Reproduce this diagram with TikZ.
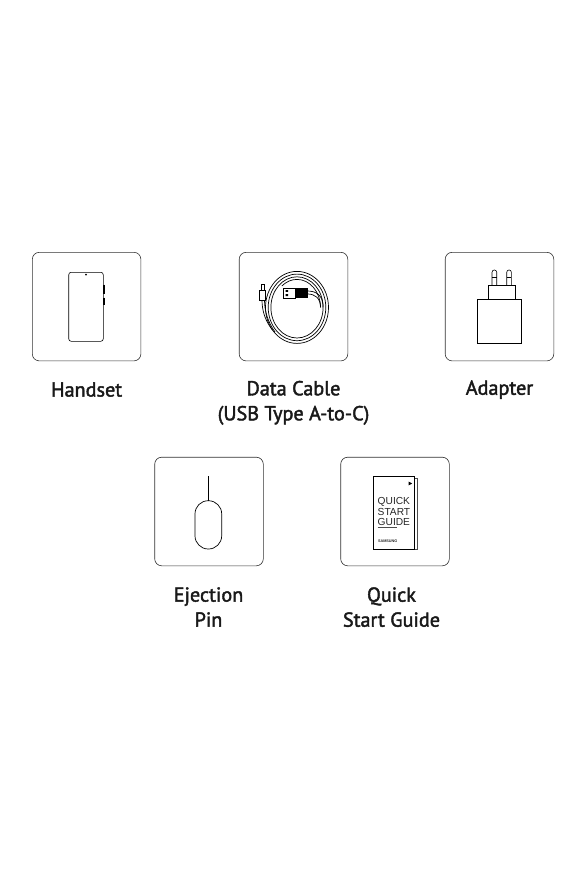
\documentclass[tikz,border=0pt]{standalone}
\usepackage{fontspec}
\setmainfont[FakeBold=2]{PT Sans}
\newfontfamily\guidefont{Liberation Sans}
\usetikzlibrary{positioning}
\tikzset{
    itembox/.style={draw=black!80,line width=0.6pt,rounded corners=7pt,minimum size=108.6pt,inner sep=0pt},
    itemlabel/.style={font=\fontsize{20.2}{25}\selectfont,align=center,text=black!90,inner sep=0pt,text depth=0pt},
    icon/.style={draw=black,line width=0.6pt},
    cableline/.style={draw=black,line width=0.7pt},
    guidetext/.style={font=\guidefont\fontsize{10.2}{10}\selectfont,anchor=west,inner sep=0pt,text=black!85}
}
\begin{document}
\begin{tikzpicture}[x=1pt,y=-1pt]
    \useasboundingbox (0,0) rectangle (586,879);
    % boxes
    \node[itembox] (handset) at (86.6,306.6) {};
    \node[itembox] (cable) at (293.5,306.6) {};
    \node[itembox] (adapter) at (499.5,306.6) {};
    \node[itembox] (pin) at (209,511.5) {};
    \node[itembox] (guide) at (395,511.5) {};
    % labels
    \node[itemlabel,below=21pt of handset] (handsetlabel) {Handset};
    \node[itemlabel,below=19.5pt of cable] (cablelabel) {Data Cable\\(USB Type A-to-C)};
    \node[itemlabel,below=19pt of adapter] (adapterlabel) {Adapter};
    \node[itemlabel,below=21pt of pin,xshift=-0.5pt] (pinlabel) {Ejection\\Pin};
    \node[itemlabel,below=21pt of guide,xshift=-3.5pt] (guidelabel) {Quick\\Start Guide};
    % phone
    \draw[icon,rounded corners=2.5pt] (68.7,272.3) rectangle (103.3,341.3);
    \fill (86,274.6) circle (1pt);
    \draw[line width=1.3pt] (104,284.5) -- (104,294) (104,297.5) -- (104,305);
    % cable
    \foreach \rad in {0,2.7,5.4} {
        \draw[cableline] (297,307.4) ellipse ({31.5-\rad} and {36-\rad});
    }
    \draw[cableline] (320.5,307.4) arc[start angle=0,end angle=130,x radius=23.5pt,y radius=28pt];
    \draw[cableline] (307.5,291) .. controls (316,291) and (323.1,295) .. (323.1,307.4);
    \draw[cableline] (307.5,294) .. controls (315,294) and (320.5,298) .. (320.5,307.4);
    \draw[cableline] (262,300) .. controls (262,312) and (266,322) .. (272.5,330);
    \draw[cableline] (264.5,300) .. controls (264.5,312) and (268.5,323) .. (275,332);
    \draw[cableline,fill=white] (259.7,290) rectangle (265.7,300);
    \draw[cableline] (261.5,284.5) rectangle (264.8,290);
    \draw[icon,fill=white,line width=1pt] (283,288) rectangle (295.3,298);
    \fill (295.3,287.6) rectangle (307.7,298.2);
    \fill (285.5,290) rectangle (288.2,291.8) (285.5,294.2) rectangle (288.2,296);
    % adapter
    \draw[icon,line width=0.7pt] (477.7,299.3) rectangle (521.7,343.3);
    \draw[icon,line width=0.7pt] (488.7,299.3) -- (488.7,285.7) -- (515.3,285.7) -- (515.3,299.3);
    \foreach \pinx in {492,506.7} {
        \draw[icon] (\pinx,285.7) -- (\pinx,272.3) arc[start angle=180,end angle=0,radius=2.35pt] -- (\pinx+4.7,285.7);
        \draw[icon] (\pinx,277) -- (\pinx+4.7,277);
    }
    % ejection pin
    \draw[icon,line width=0.7pt] (208.3,476) -- (208.3,500.7);
    \draw[icon,line width=0.7pt,rounded corners=13.2pt] (195,500.7) rectangle (221.7,549);
    % quick start guide
    \draw[icon,line width=0.5pt,draw=black!70] (414.7,478.3) -- (417.3,478.3) -- (417.3,549) -- (414.7,549);
    \draw[icon] (373.7,476.7) rectangle (414.7,549);
    \fill (408.7,481.6) -- (412.2,483.5) -- (408.7,485.4) -- cycle;
    \node[guidetext] (guideA) at (377.5,501.8) {QUICK};
    \node[guidetext] (guideB) at (377.5,511.8) {START};
    \node[guidetext] (guideC) at (377.5,521.8) {GUIDE};
    \draw[line width=0.4pt,draw=black!70] (377.7,527.3) -- (397,527.3);
    \node[guidetext,font=\guidefont\bfseries\fontsize{3.8}{4}\selectfont] (guideD) at (377.8,540.8) {SAMSUNG};
\end{tikzpicture}
\end{document}
